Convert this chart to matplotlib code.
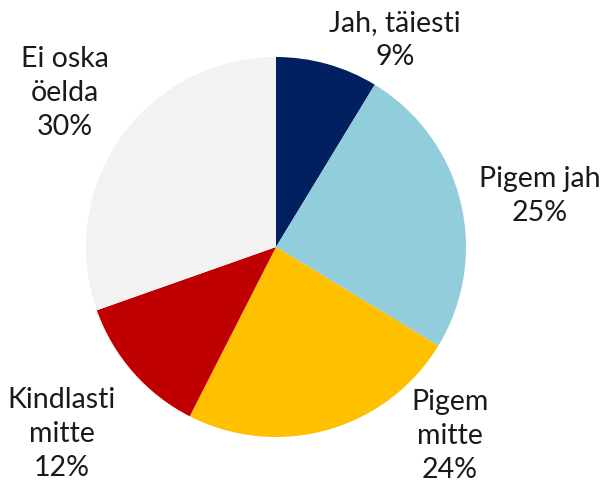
import matplotlib.pyplot as plt

labels = ["Jah, täiesti", "Pigem jah", "Pigem\nmitte", "Kindlasti\nmitte", "Ei oska\nöelda"]
# shares (labels show them rounded)
values = [8.7, 25.0, 23.8, 12.1, 30.4]
colors = ["#002060", "#92CDDC", "#FFC000", "#C00000", "#F2F2F2"]

# label centres in pixels (x, y from top)
label_pos = [(395, 40), (540, 196), (450, 436), (62, 434), (65, 93)]

W, H = 604, 483
fig = plt.figure(figsize=(W / 100, H / 100), dpi=100)

cx, cy, r = 276, 247, 190
ax = fig.add_axes([(cx - r) / W, (H - cy - r) / H, 2 * r / W, 2 * r / H])
ax.pie(values, colors=colors, startangle=90, counterclock=False,
       wedgeprops=dict(linewidth=0))
ax.set_xlim(-1, 1)
ax.set_ylim(-1, 1)
ax.set_aspect("equal")
ax.axis("off")

for lab, val, (x, y) in zip(labels, values, label_pos):
    fig.text(x / W, 1 - y / H, f"{lab}\n{round(val)}%", ha="center", va="center",
             fontsize=20.5, family=["Lato", "DejaVu Sans"], color="#1a1a1a",
             linespacing=1.4)

fig.savefig("out.png", dpi=100)
